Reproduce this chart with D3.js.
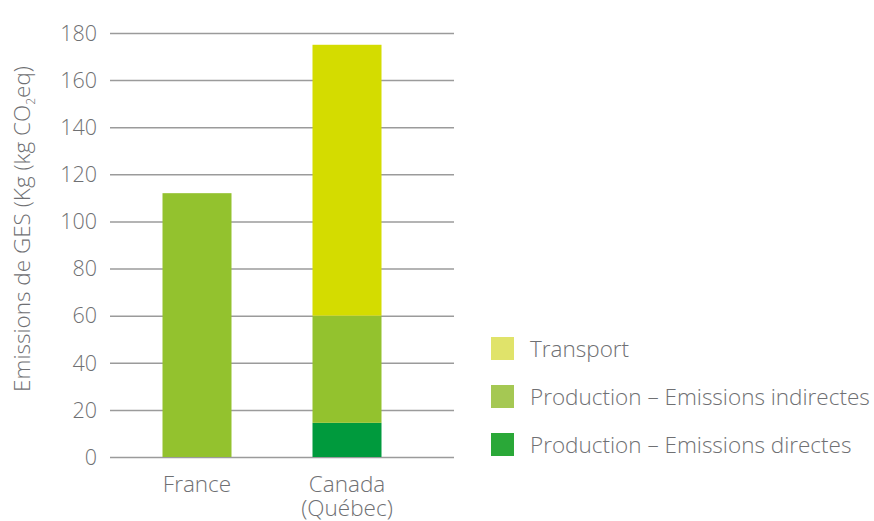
<!DOCTYPE html>
<html>
<head>
<meta charset="utf-8">
<script src="https://cdn.jsdelivr.net/npm/d3@7"></script>
<style>
  body { margin: 0; background: #fff; }
  text { font-family: "Open Sans", sans-serif; font-weight: 300; fill: #6f7073; }
</style>
</head>
<body>
<div id="chart"></div>
<script>
(function(){
  'use strict';

  var categories = ['France', 'Canada\n(Québec)'],
      seriesNames = ['Production – Emissions directes', 'Production – Emissions indirectes', 'Transport'],
      direct = [0, 14.5],
      indirect = [112, 45.5],
      transport = [0, 115],
      yTicks = [0, 20, 40, 60, 80, 100, 120, 140, 160, 180];

  var barColors = ['#009a3d', '#93c22e', '#d4dc00'],
      swatchColors = ['#2aa838', '#a5c853', '#e0e36a'],
      w = 874,
      h = 521;

  var svg = d3.select('#chart').append('svg')
    .attr('width', w)
    .attr('height', h);

  var rows = categories.map(function(c, i) {
    return {cat: c, d: direct[i], ind: indirect[i], t: transport[i]};
  });
  var stack = d3.stack().keys(['d', 'ind', 't'])(rows);

  var x = d3.scaleBand()
      .domain(categories)
      .range([122, 422])
      .paddingInner(0.54)
      .paddingOuter(0.27),

    y = d3.scaleLinear()
      .domain([0, 180])
      .range([457, 33]);

  // gridlines + tick labels
  var yAxis = d3.axisLeft(y)
    .tickValues(yTicks)
    .tickSize(-344)
    .tickPadding(13);

  var gy = svg.append('g')
    .attr('transform', 'translate(110,0)')
    .call(yAxis);
  gy.select('.domain').remove();
  gy.selectAll('.tick line')
    .attr('stroke', '#9b9b9b')
    .attr('stroke-width', 1.5);
  gy.selectAll('.tick text')
    .attr('dy', '0.34em')
    .style('font-size', '21.5px')
    .style('fill', '#6f7073')
    .style('font-family', '"Open Sans", sans-serif');

  // bars
  svg.selectAll('.layer')
    .data(stack)
    .enter()
    .append('g')
    .attr('fill', function(d, i) { return barColors[i]; })
    .selectAll('rect')
    .data(function(d) { return d; })
    .enter()
    .append('rect')
    .attr('x', function(d) { return x(d.data.cat); })
    .attr('width', x.bandwidth())
    .attr('y', function(d) { return y(d[1]); })
    .attr('height', function(d) { return y(d[0]) - y(d[1]); });

  // category labels
  var xl = svg.selectAll('.xlab')
    .data(categories)
    .enter()
    .append('text')
    .attr('text-anchor', 'middle')
    .style('font-size', '22.5px')
    .attr('transform', function(d) {
      return 'translate(' + (x(d) + x.bandwidth() / 2) + ',492)';
    });
  xl.selectAll('tspan')
    .data(function(d) { return d.split('\n'); })
    .enter()
    .append('tspan')
    .attr('x', 0)
    .attr('dy', function(d, i) { return i ? 24 : 0; })
    .text(function(d) { return d; });

  // y title
  var yt = svg.append('text')
    .attr('text-anchor', 'middle')
    .style('font-size', '22.5px')
    .attr('transform', 'translate(30,229) rotate(-90)');
  yt.append('tspan').text('Emissions de GES (Kg (kg CO');
  yt.append('tspan').text('2').style('font-size', '12px').attr('dy', 5);
  yt.append('tspan').text('eq)').attr('dy', -5);

  // legend
  var legend = svg.selectAll('.leg')
    .data(seriesNames.slice().reverse())
    .enter()
    .append('g')
    .attr('transform', function(d, i) { return 'translate(491,' + (337 + i * 48) + ')'; });
  legend.append('rect')
    .attr('width', 23)
    .attr('height', 23)
    .attr('fill', function(d, i) { return swatchColors[2 - i]; });
  legend.append('text')
    .attr('x', 39)
    .attr('y', 20)
    .style('font-size', '22.5px')
    .text(function(d) { return d; });

}());
</script>
</body>
</html>
